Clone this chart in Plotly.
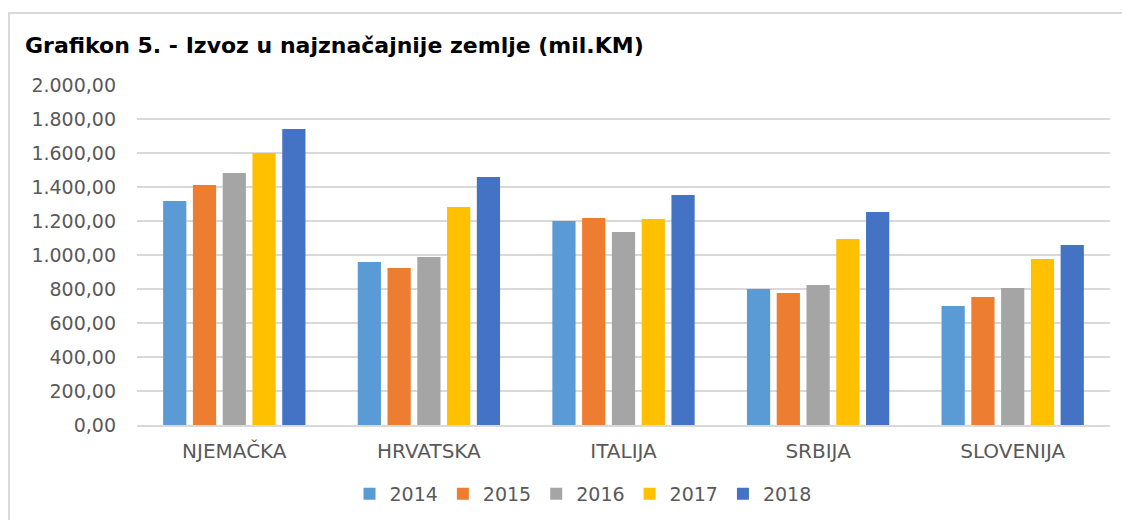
"""Grafikon 5 - izvoz u najznačajnije zemlje, grouped bars."""

import plotly.graph_objects as go

countries = ["NJEMAČKA", "HRVATSKA", "ITALIJA", "SRBIJA", "SLOVENIJA"]
years = ["2014", "2015", "2016", "2017", "2018"]

v2014 = [1318, 959, 1200, 800, 700]
v2015 = [1412, 924, 1218, 776, 753]
v2016 = [1482, 988, 1135, 824, 806]
v2017 = [1600, 1282, 1212, 1094, 976]
v2018 = [1741, 1459, 1353, 1253, 1059]

colors = ["#5B9BD5", "#ED7D31", "#A5A5A5", "#FFC000", "#4472C4"]

W, H = 1130, 520
OFF = 8  # page body margin shifts the figure by this much
L, R, T, B = 137 - OFF, 20 + OFF, 85 - OFF, 95 + OFF
plot_w = W - L - R
plot_h = H - T - B
FONT = "DejaVu Sans"

fig = go.Figure()
for year, vals, col in zip(years, [v2014, v2015, v2016, v2017, v2018], colors):
    fig.add_trace(
        go.Bar(
            x=countries,
            y=vals,
            name=year,
            marker_color=col,
            marker_line_width=0,
        )
    )

# light grey frame around the chart (open on right/bottom like the crop)
fig.add_shape(
    type="rect",
    xref="paper",
    yref="paper",
    x0=(8 - OFF - L + 1) / plot_w,
    x1=(W + 20 - L) / plot_w,
    y0=(T + plot_h - (H + 20)) / plot_h,
    y1=(T + plot_h - (12 - OFF + 1)) / plot_h,
    line=dict(color="#D9D9D9", width=2),
    fillcolor="rgba(0,0,0,0)",
    layer="below",
)

fig.update_layout(
    width=W,
    height=H,
    margin=dict(l=L, r=R, t=T, b=B),
    paper_bgcolor="white",
    plot_bgcolor="white",
    separators=",.",
    font=dict(family=FONT, color="#595959", size=18),
    title=dict(
        text="<b>Grafikon 5. - Izvoz u najznačajnije zemlje (mil.KM)</b>",
        font=dict(family=FONT, size=22, color="#000000"),
        xref="container",
        yref="container",
        x=(25 - OFF) / W,
        xanchor="left",
        y=1 - (45 - OFF) / H,
        yanchor="middle",
    ),
    barmode="group",
    bargap=0.235,
    bargroupgap=0.22,
    xaxis=dict(
        showgrid=False,
        showline=True,
        linecolor="#D9D9D9",
        linewidth=2,
        ticks="",
        ticklabelstandoff=7,
        tickfont=dict(family=FONT, size=20, color="#595959"),
    ),
    yaxis=dict(
        range=[0, 2000],
        dtick=200,
        tickformat=",.2f",
        showgrid=True,
        gridcolor="#D9D9D9",
        gridwidth=2,
        zeroline=False,
        ticks="",
        ticklabelstandoff=20,
        tickfont=dict(family=FONT, size=19, color="#595959"),
    ),
    legend=dict(
        orientation="h",
        xref="container",
        yref="container",
        x=(583 - OFF) / W,
        xanchor="center",
        y=1 - (494 - OFF) / H,
        yanchor="middle",
        font=dict(family=FONT, size=19, color="#595959"),
        itemwidth=30,
    ),
)

fig.write_html("out.html")
